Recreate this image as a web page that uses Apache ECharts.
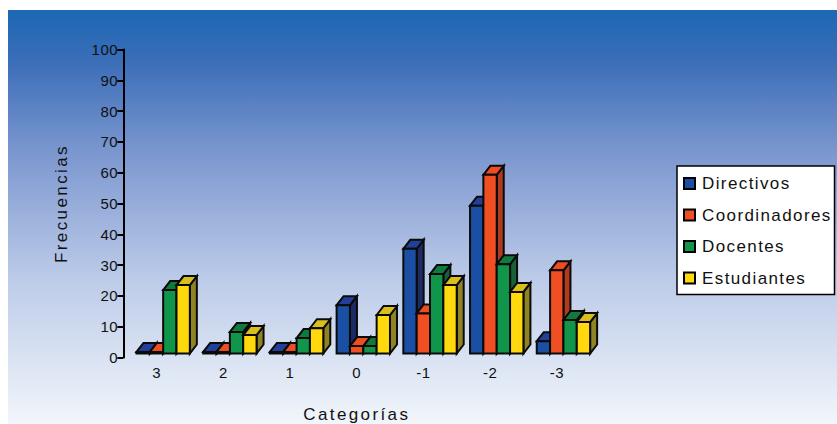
<!DOCTYPE html>
<html><head><meta charset="utf-8">
<style>html,body{margin:0;padding:0;background:#fff}#c{width:837px;height:424px}#c text{letter-spacing:.6px}</style>
<script src="https://cdn.jsdelivr.net/npm/echarts@6/dist/echarts.min.js"></script>
</head><body><div id="c"></div>
<script>
const categories = ['3','2','1','0','-1','-2','-3'];
const directivos    = [0.5,0.5,0.5,15.7,34,48,4];
const coordinadores = [0.5,0.5,0.5,2.4,13,58,27];
const docentes      = [20.6,7,5,2.4,25.8,29,10.9];
const estudiantes   = [22.2,6,8.2,12.5,22.2,20,10.2];
const names = ['Directivos','Coordinadores','Docentes','Estudiantes'];
const values = [directivos,coordinadores,docentes,estudiantes];
const front = ['#1a4fa3','#f04e23','#10954a','#ffd80d'];
const topFace = ['#22409a','#ee4d22','#0f7a3e','#d9bf1e'];
const sideFace = ['#1c2a66','#ae3a20','#17603a','#8f8424'];

const chart = echarts.init(document.getElementById('c'), null, {renderer:'svg'});
const DX = 7, DY = 9, SHIFT_X = 6.5, SHIFT_Y = -4, stroke = '#0a0a0a';
function bars(si){
  return function(params, api){
    const c = api.value(0), v = api.value(1);
    const band = api.size([1,0])[0];
    const w = band * 0.2;
    const cx = api.coord([c,0])[0];
    const y0 = api.coord([c,0])[1] + SHIFT_Y;
    const y1 = api.coord([c,v])[1] + SHIFT_Y;
    const x0 = cx + SHIFT_X + (si-2)*w, x1 = x0 + w;
    const st = f => ({fill:f, stroke:stroke, lineWidth:2, lineJoin:'miter'});
    const poly = (pts,f) => ({type:'polygon', shape:{points:pts}, style:st(f)});
    return {type:'group', children:[
      poly([[x1,y1],[x1+DX,y1-DY],[x1+DX,y0-DY],[x1,y0]], sideFace[si]),
      poly([[x0,y1],[x0+DX,y1-DY],[x1+DX,y1-DY],[x1,y1]], topFace[si]),
      poly([[x0,y1],[x1,y1],[x1,y0],[x0,y0]], front[si])
    ]};
  };
}
const font = '"Liberation Sans", Arial, sans-serif';
chart.setOption({
  animation:false,
  backgroundColor:'#ffffff',
  graphic:[{type:'rect', z:-10, silent:true, shape:{x:8,y:10,width:829,height:414},
    style:{fill:new echarts.graphic.LinearGradient(0,0,0,1,[
      {offset:0,color:'#1c68b4'},{offset:.12,color:'#3a6db8'},{offset:.35,color:'#7d98d0'},
      {offset:.65,color:'#bccbe8'},{offset:1,color:'#f2f6fb'}])}}],
  grid:{left:123.3,top:49.5,width:467,height:308,outerBoundsMode:'none',containLabel:false},
  legend:{show:true,orient:'vertical',left:677,top:166,padding:[9,21,8,6],itemGap:14.5,
    itemWidth:11,itemHeight:11,icon:'rect',backgroundColor:'#fff',borderColor:'#000',borderWidth:1.5,borderRadius:0,
    textStyle:{fontFamily:font,fontSize:17,color:'#111',padding:[0,0,0,2]},
    data:names},
  xAxis:{type:'category',data:categories,
    axisLine:{show:false},axisTick:{show:false},
    axisLabel:{fontFamily:font,fontSize:15,color:'#111',margin:7},
    name:'Categorías',nameLocation:'middle',nameGap:48,
    nameTextStyle:{fontFamily:font,fontSize:17,color:'#111'}},
  yAxis:{type:'value',min:0,max:100,interval:10,
    splitLine:{show:false},
    axisLine:{show:true,lineStyle:{color:'#000',width:2}},
    axisTick:{show:true,length:6,lineStyle:{color:'#000',width:2}},
    axisLabel:{fontFamily:font,fontSize:15,color:'#111',margin:5},
    name:'Frecuencias',nameLocation:'middle',nameGap:53,
    nameTextStyle:{fontFamily:font,fontSize:17,color:'#111'}},
  series:names.map((n,si)=>({
    type:'custom',name:n,clip:false,
    itemStyle:{color:front[si],borderColor:'#000',borderWidth:1.5},
    renderItem:bars(si),
    encode:{x:0,y:1},
    data:values[si].map((v,i)=>[i,v])
  }))
});
function spaceText(){
  document.querySelectorAll('#c text').forEach(t=>{
    const s=t.textContent;
    if(s==='Categorías'||s==='Frecuencias') t.style.letterSpacing='2.4px';
    else if(names.includes(s)) t.style.letterSpacing='1.4px';
  });
}
spaceText();
chart.on('finished',spaceText);
</script></body></html>
